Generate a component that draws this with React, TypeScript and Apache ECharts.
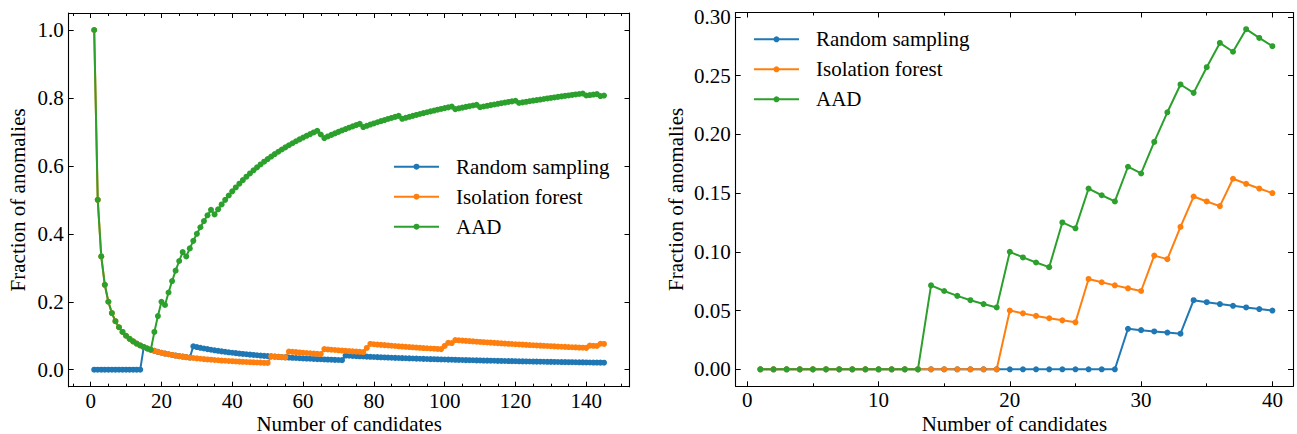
import React, { useEffect, useRef } from "react";
import * as echarts from "echarts";

// ---------------- data ----------------
const SERIES_NAMES = ["Random sampling", "Isolation forest", "AAD"];
const COLORS = ["#1f77b4", "#ff7f0e", "#2ca02c"];

// Left panel: number of candidates inspected
const LEFT_N = 145;
// Runs [from, to] of candidate numbers at which an anomaly was found
const leftRandomRuns = [[15, 15], [29, 29], [72, 72]];
const leftIForestRuns = [[1, 1], [51, 51], [56, 56], [66, 66], [78, 79], [100, 101], [103, 103], [141, 141], [144, 144]];
const leftAADRuns = [
  [1, 1], [18, 20], [22, 26], [28, 34], [36, 64], [67, 76], [78, 87],
  [89, 102], [104, 109], [111, 120], [122, 139], [141, 143], [145, 145],
];

// Right panel
const RIGHT_N = 40;
const rightRandomRuns = [[29, 29], [34, 34]];
const rightIForestRuns = [[20, 20], [26, 26], [31, 31], [33, 34], [37, 37]];
const rightAADRuns = [[14, 14], [20, 20], [24, 24], [26, 26], [29, 29], [31, 33], [35, 36], [38, 38]];

// Tick values
const leftXTicks = [0, 20, 40, 60, 80, 100, 120, 140];
const leftXMinorTicks = [-5, 5, 10, 15, 25, 30, 35, 45, 50, 55, 65, 70, 75, 85, 90, 95, 105, 110, 115, 125, 130, 135, 145, 150];
const leftYTicks = [0, 0.2, 0.4, 0.6, 0.8, 1.0];
const rightXTicks = [0, 10, 20, 30, 40];
const rightXMinorTicks = [5, 15, 25, 35];
const rightYTicks = [0, 0.05, 0.1, 0.15, 0.2, 0.25, 0.3];

const X_LABEL = "Number of candidates";
const Y_LABEL = "Fraction of anomalies";

// Fraction of anomalies found after each candidate
function fractions(runs: number[][], n: number): number[][] {
  const hit = new Set<number>();
  runs.forEach(([a, b]) => {
    for (let i = a; i <= b; i++) hit.add(i);
  });
  let found = 0;
  const out: number[][] = [];
  for (let i = 1; i <= n; i++) {
    if (hit.has(i)) found++;
    out.push([i, found / i]);
  }
  return out;
}

const FONT = "Liberation Serif";
const FS = 21;

function xAxes(grid: number, min: number, max: number, majors: number[], minors: number[], withName: boolean) {
  const common = {
    gridIndex: grid,
    type: "value",
    min,
    max,
    splitLine: { show: false },
    axisLine: { show: true, onZero: false, lineStyle: { color: "#000", width: 1.1 } },
  };
  const hiddenLine = { show: false, onZero: false };
  return [
    {
      ...common,
      position: "bottom",
      axisTick: { show: true, inside: true, length: 5, customValues: majors, lineStyle: { color: "#000", width: 1 } },
      axisLabel: {
        show: true, customValues: majors, margin: 3.5, color: "#000", fontFamily: FONT, fontSize: FS,
        formatter: (v: number) => String(v),
      },
      name: withName ? X_LABEL : "",
      nameLocation: "middle",
      nameGap: 27.5,
      nameMoveOverlap: false,
      nameTextStyle: { color: "#000", fontFamily: FONT, fontSize: FS, lineHeight: 20 },
    },
    {
      ...common,
      position: "bottom",
      axisLine: hiddenLine,
      axisTick: { show: true, inside: true, length: 3, customValues: minors, lineStyle: { color: "#000", width: 1 } },
      axisLabel: { show: false },
    },
    {
      ...common,
      position: "top",
      axisTick: { show: true, inside: true, length: 5, customValues: majors, lineStyle: { color: "#000", width: 1 } },
      axisLabel: { show: false },
    },
    {
      ...common,
      position: "top",
      axisLine: hiddenLine,
      axisTick: { show: true, inside: true, length: 3, customValues: minors, lineStyle: { color: "#000", width: 1 } },
      axisLabel: { show: false },
    },
  ];
}

function yAxes(grid: number, min: number, max: number, majors: number[], digits: number, nameGap: number) {
  const common = {
    gridIndex: grid,
    type: "value",
    min,
    max,
    splitLine: { show: false },
    axisLine: { show: true, onZero: false, lineStyle: { color: "#000", width: 1.1 } },
    axisTick: { show: true, inside: true, length: 5, customValues: majors, lineStyle: { color: "#000", width: 1 } },
  };
  return [
    {
      ...common,
      position: "left",
      axisLabel: {
        show: true, customValues: majors, margin: 5, color: "#000", fontFamily: FONT, fontSize: FS,
        formatter: (v: number) => v.toFixed(digits),
      },
      name: Y_LABEL,
      nameLocation: "middle",
      nameGap,
      nameTextStyle: { color: "#000", fontFamily: FONT, fontSize: FS },
    },
    {
      ...common,
      position: "right",
      axisLabel: { show: false },
    },
  ];
}

function lineSeries(name: string, color: string, data: number[][], xi: number, yi: number) {
  return {
    type: "line",
    name,
    xAxisIndex: xi,
    yAxisIndex: yi,
    data,
    showSymbol: true,
    symbol: "circle",
    symbolSize: 6,
    color,
    itemStyle: { color },
    lineStyle: { color, width: 2 },
    emphasis: { disabled: true },
    silent: true,
  };
}

function legend(left: number, top: number) {
  return {
    show: true,
    orient: "vertical",
    left,
    top,
    padding: 0,
    itemGap: 0,
    itemWidth: 45,
    itemHeight: 7.5,
    selectedMode: false,
    data: SERIES_NAMES,
    textStyle: {
      color: "#000",
      fontFamily: FONT,
      fontSize: FS,
      lineHeight: 30,
      padding: [0, 0, 0, 12],
    },
  };
}

export default function App() {
  const ref = useRef<HTMLDivElement>(null);

  useEffect(() => {
    if (!ref.current) return;
    const chart = echarts.init(ref.current, null, { renderer: "svg" });

    const leftData = [
      fractions(leftRandomRuns, LEFT_N),
      fractions(leftIForestRuns, LEFT_N),
      fractions(leftAADRuns, LEFT_N),
    ];
    const rightData = [
      fractions(rightRandomRuns, RIGHT_N),
      fractions(rightIForestRuns, RIGHT_N),
      fractions(rightAADRuns, RIGHT_N),
    ];

    const option = {
      animation: false,
      backgroundColor: "#fff",
      grid: [
        { left: 68.7, right: 1297 - 629.5, top: 13, bottom: 434 - 386.7, containLabel: false, outerBoundsMode: "none" },
        { left: 735.7, right: 1297 - 1293, top: 12.5, bottom: 434 - 386.3, containLabel: false, outerBoundsMode: "none" },
      ],
      legend: [legend(393, 151.7), legend(753, 24.3)],
      xAxis: [
        ...xAxes(0, -6.2, 152.2, leftXTicks, leftXMinorTicks, true),
        ...xAxes(1, -0.88, 41.57, rightXTicks, rightXMinorTicks, true),
      ],
      yAxis: [
        ...yAxes(0, -0.05, 1.05, leftYTicks, 1, 40),
        ...yAxes(1, -0.01446, 0.30368, rightYTicks, 2, 49),
      ],
      series: [
        ...SERIES_NAMES.map((n, i) => lineSeries(n, COLORS[i], leftData[i], 0, 0)),
        ...SERIES_NAMES.map((n, i) => lineSeries(n, COLORS[i], rightData[i], 4, 2)),
      ],
    };

    chart.setOption(option as any);
    return () => chart.dispose();
  }, []);

  return (
    <div
      ref={ref}
      style={{ position: "absolute", left: 0, top: 0, width: 1297, height: 434 }}
    />
  );
}
